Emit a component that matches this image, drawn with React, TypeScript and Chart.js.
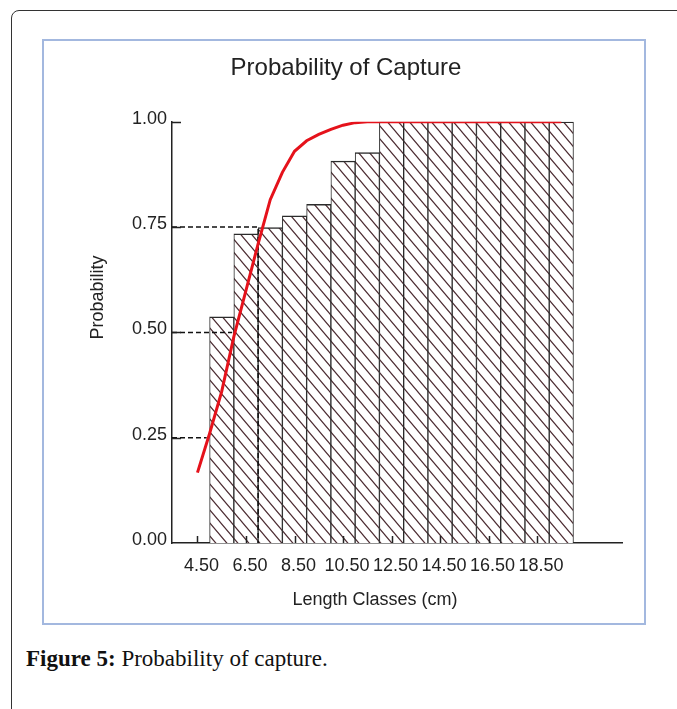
import React, { useEffect, useRef } from "react";
import { Chart, registerables } from "chart.js";

Chart.register(...registerables);

// ---- data ----
const chartTitle = "Probability of Capture";
const xTitle = "Length Classes (cm)";
const yTitle = "Probability";

// 1-cm length classes (bar centres) and the observed probability of capture
const classMid = [5.5, 6.5, 7.5, 8.5, 9.5, 10.5, 11.5, 12.5, 13.5, 14.5, 15.5, 16.5, 17.5, 18.5, 19.5];
const observedProb = [0.537, 0.734, 0.749, 0.777, 0.804, 0.907, 0.927, 1, 1, 1, 1, 1, 1, 1, 1];

// fitted selection curve (red)
const curveLength = [4.5, 5.0, 5.5, 6.0, 6.5, 7.0, 7.5, 8.0, 8.5, 9.0, 9.5, 10.0, 10.5, 11.0, 11.5, 19.5];
const curveProb = [0.167, 0.26, 0.36, 0.49, 0.6, 0.71, 0.815, 0.88, 0.93, 0.955, 0.97, 0.982, 0.992, 0.998, 1.0, 1.0];

// dashed reference levels (L25, L50, L75)
const refProb = [0.25, 0.5, 0.75];
const refLength = [4.88, 5.93, 7.0];

const xTickValues = [4.5, 6.5, 8.5, 10.5, 12.5, 14.5, 16.5, 18.5];
const yTickValues = [0, 0.25, 0.5, 0.75, 1.0];
const xMin = 3.45;
const xMax = 22;

const FONT = '"Liberation Sans", Arial, sans-serif';

export default function App() {
  const ref = useRef<HTMLCanvasElement | null>(null);

  useEffect(() => {
    const canvas = ref.current!;
    const ctx = canvas.getContext("2d")!;

    const TW = 11;
    const TH = 13;
    const tile = document.createElement("canvas");
    tile.width = TW;
    tile.height = TH;
    const tg = tile.getContext("2d")!;
    tg.fillStyle = "#ffffff";
    tg.fillRect(0, 0, TW, TH);
    tg.strokeStyle = "#4d2d33";
    tg.lineWidth = 1.2;
    tg.beginPath();
    for (const dx of [-TW, 0, TW]) {
      tg.moveTo(dx - TW, -TH);
      tg.lineTo(dx + 2 * TW, 2 * TH);
    }
    tg.stroke();
    const hatch = ctx.createPattern(tile, "repeat");

    const refDatasets = refProb.map((p, i) => {
      const pts = [
        { x: xMin, y: p },
        { x: refLength[i], y: p },
      ];
      if (p === 0.75) pts.push({ x: refLength[i], y: 0 });
      return {
        type: "line" as const,
        data: pts,
        borderColor: "#111",
        borderWidth: 1.5,
        borderDash: [5, 3],
        pointRadius: 0,
        fill: false,
        order: 2,
      };
    });

    const extras = {
      id: "extras",
      afterDraw(chart: any) {
        const c = chart.ctx;
        const xs = chart.scales.x;
        const ys = chart.scales.y;
        const area = chart.chartArea;
        c.save();
        c.strokeStyle = "#222";
        c.lineWidth = 1.5;
        c.beginPath();
        yTickValues.forEach((v) => {
          if (v === 0) return;
          const py = Math.round(ys.getPixelForValue(v)) + 0.5;
          c.moveTo(area.left, py);
          c.lineTo(area.left + 9, py);
        });
        xTickValues.forEach((v) => {
          const px = Math.round(xs.getPixelForValue(v)) + 0.5;
          c.moveTo(px, area.bottom);
          c.lineTo(px, area.bottom - 7);
        });
        c.stroke();
        c.font = `18px ${FONT}`;
        c.fillStyle = "#222";
        c.textAlign = "center";
        c.textBaseline = "middle";
        // x axis title
        c.fillText(xTitle, area.left + 203, area.bottom + 57);
        // y axis title
        c.translate(area.left - 74, (area.top + area.bottom) / 2 - 35);
        c.rotate(-Math.PI / 2);
        c.fillText(yTitle, 0, 0);
        c.restore();
      },
    };

    const chart = new Chart(ctx, {
      type: "bar",
      data: {
        datasets: [
          {
            type: "line" as const,
            data: curveLength.map((x, i) => ({ x, y: curveProb[i] })),
            borderColor: "#e5121b",
            borderWidth: 3,
            pointRadius: 0,
            fill: false,
            tension: 0,
            order: 1,
          },
          ...refDatasets,
          {
            type: "bar" as const,
            data: classMid.map((x, i) => ({ x, y: observedProb[i] })),
            backgroundColor: hatch as any,
            borderColor: "#2b2b2b",
            borderWidth: { top: 1.5, left: 1, right: 1, bottom: 0 } as any,
            borderSkipped: false as any,
            barPercentage: 1,
            categoryPercentage: 1,
            order: 3,
          },
        ] as any,
      },
      options: {
        responsive: false,
        animation: false,
        layout: { padding: { left: 26, right: 22, top: 0, bottom: 0 } },
        plugins: {
          legend: { display: false },
          tooltip: { enabled: false },
          title: {
            display: true,
            text: chartTitle,
            color: "#222",
            font: { family: FONT, size: 24, weight: "normal" as any },
            padding: { top: 13, bottom: 39 },
          },
        },
        scales: {
          x: {
            type: "linear",
            min: xMin,
            max: xMax,
            offset: false,
            grid: { display: false, drawTicks: false, offset: false },
            border: { display: true, color: "#222", width: 1.5 },
            afterBuildTicks: (scale: any) => {
              scale.ticks = xTickValues.map((v) => ({ value: v }));
            },
            afterFit: (scale: any) => {
              scale.height = 80;
            },
            ticks: {
              autoSkip: false,
              maxRotation: 0,
              minRotation: 0,
              padding: 12,
              labelOffset: 4,
              color: "#222",
              font: { family: FONT, size: 18 },
              callback: (v: any) => Number(v).toFixed(2),
            },
            title: { display: false },
          },
          y: {
            type: "linear",
            min: 0,
            max: 1,
            grid: { display: false, drawTicks: false },
            border: { display: true, color: "#222", width: 1.5 },
            afterFit: (scale: any) => {
              scale.width = 102;
            },
            ticks: {
              stepSize: 0.25,
              padding: 5,
              labelOffset: -3,
              color: "#222",
              font: { family: FONT, size: 18 },
              callback: (v: any) => Number(v).toFixed(2),
            },
          },
        },
      } as any,
      plugins: [extras],
    });

    return () => chart.destroy();
  }, []);

  return (
    <div
      style={{
        position: "absolute",
        left: 0,
        top: 0,
        width: 677,
        height: 709,
        overflow: "hidden",
        background: "#fff",
      }}
    >
      <div
        style={{
          position: "absolute",
          left: 11,
          top: 10,
          width: 720,
          height: 760,
          border: "1.5px solid #333",
          borderTopLeftRadius: 8,
          boxSizing: "border-box",
        }}
      />
      <div
        style={{
          position: "absolute",
          left: 42,
          top: 39,
          width: 604,
          height: 586,
          border: "2px solid #a3b8df",
          boxSizing: "border-box",
          background: "#fff",
        }}
      />
      <canvas
        ref={ref}
        width={600}
        height={582}
        style={{ position: "absolute", left: 44, top: 41, width: 600, height: 582 }}
      />
      <div
        style={{
          position: "absolute",
          left: 26,
          top: 646,
          fontFamily: '"Liberation Serif", "Times New Roman", serif',
          fontSize: 23,
          color: "#111",
          whiteSpace: "nowrap",
        }}
      >
        <b>Figure 5:</b> Probability of capture.
      </div>
    </div>
  );
}
